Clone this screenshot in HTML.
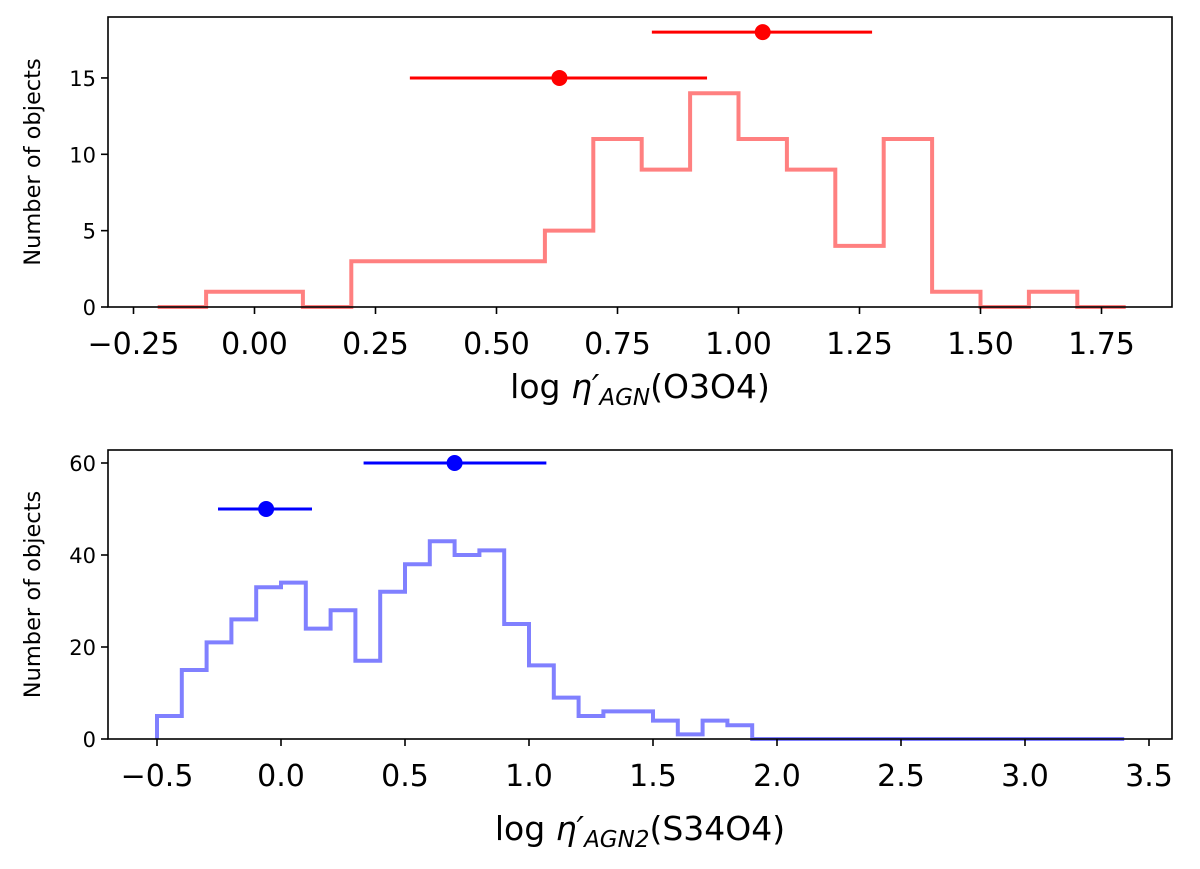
<!DOCTYPE html>
<html><head><meta charset="utf-8"><style>
html,body{margin:0;padding:0;background:#fff;}
svg{display:block;font-family:"DejaVu Sans","Liberation Sans",sans-serif;}
</style></head><body>
<svg id="chart" width="1200" height="869" viewBox="0 0 1200 869"></svg>
<script>
// Top panel data
const topBinStart = -0.2;
const topBinWidth = 0.1;
const topCounts = [0,1,1,0,3,3,3,3,5,11,9,14,11,9,4,11,1,0,1,0];
const topXTicks = [-0.25,0,0.25,0.5,0.75,1.0,1.25,1.5,1.75];
const topXTickLabels = ["\u22120.25","0.00","0.25","0.50","0.75","1.00","1.25","1.50","1.75"];
const topYTicks = [0,5,10,15];
const topPointsX = [1.05,0.63];
const topPointsY = [18,15];
const topErrLo = [0.821,0.321];
const topErrHi = [1.276,0.935];
// Bottom panel data
const botBinStart = -0.5;
const botBinWidth = 0.1;
const botCounts = [5,15,21,26,33,34,24,28,17,32,38,43,40,41,25,16,9,5,6,6,4,1,4,3,0,0,0,0,0,0,0,0,0,0,0,0,0,0,0];
const botXTicks = [-0.5,0,0.5,1.0,1.5,2.0,2.5,3.0,3.5];
const botXTickLabels = ["\u22120.5","0.0","0.5","1.0","1.5","2.0","2.5","3.0","3.5"];
const botYTicks = [0,20,40,60];
const botPointsX = [0.70,-0.06];
const botPointsY = [60,50];
const botErrLo = [0.333,-0.254];
const botErrHi = [1.07,0.125];

const svg = document.getElementById('chart');
const NS = 'http://www.w3.org/2000/svg';
function mk(tag, attrs, parent){
  const e = document.createElementNS(NS, tag);
  for (const k in attrs) e.setAttribute(k, attrs[k]);
  (parent||svg).appendChild(e);
  return e;
}

function panel(cfg){
  const g = mk('g', {});
  
  
  const X = v => cfg.x0 + cfg.xs * v;
  const Y = v => cfg.yb - cfg.ys * v;
  let d = '';
  const c = cfg.counts;
  for (let i = 0; i < c.length; i++) {
    const xa = X(cfg.binStart + i*cfg.binWidth), xb = X(cfg.binStart + (i+1)*cfg.binWidth);
    if (i === 0) d += 'M' + xa + ',' + cfg.yb + ' L' + xa + ',' + Y(c[i]);
    else d += ' L' + xa + ',' + Y(c[i]);
    d += ' L' + xb + ',' + Y(c[i]);
  }
  const last = cfg.binStart + c.length*cfg.binWidth;
  d += ' L' + X(last) + ',' + cfg.yb;
  const h = mk('path', {d: d, fill: 'none', stroke: cfg.histColor, 'stroke-width': 4, 'stroke-linejoin': 'miter'}, g);
  
  
  for (let i = 0; i < cfg.px.length; i++) {
    const eb = mk('g', {}, g);
    
    
    mk('line', {x1: X(cfg.lo[i]), x2: X(cfg.hi[i]), y1: Y(cfg.py[i]), y2: Y(cfg.py[i]), stroke: cfg.ptColor, 'stroke-width': 3}, eb);
    mk('circle', {cx: X(cfg.px[i]), cy: Y(cfg.py[i]), r: 8, fill: cfg.ptColor}, eb);
  }
  const fr = mk('rect', {x: cfg.left, y: cfg.top, width: cfg.right-cfg.left, height: cfg.yb-cfg.top, fill: 'none', stroke: '#000', 'stroke-width': 1.6}, g);
  
  
  cfg.xt.forEach((v, i) => {
    mk('line', {x1: X(v), x2: X(v), y1: cfg.yb, y2: cfg.yb+7, stroke: '#000', 'stroke-width': 1.6}, g);
    const t = mk('text', {x: X(v), y: cfg.yb+47, 'text-anchor': 'middle', 'font-size': 30, fill: '#000'}, g);
    t.textContent = cfg.xtl[i];
    
    
  });
  cfg.yt.forEach(v => {
    mk('line', {x1: cfg.left-7, x2: cfg.left, y1: Y(v), y2: Y(v), stroke: '#000', 'stroke-width': 1.6}, g);
    const t = mk('text', {x: cfg.left-12, y: Y(v)+8, 'text-anchor': 'end', 'font-size': 21, fill: '#000'}, g);
    t.textContent = String(v);
    
    
  });
  const yl = mk('text', {x: 0, y: 0, 'text-anchor': 'middle', 'font-size': 22.5, fill: '#000', transform: 'translate(' + cfg.ylx + ',' + ((cfg.top+cfg.yb)/2) + ') rotate(-90)'}, g);
  yl.textContent = 'Number of objects';
  
  
  const xl = mk('text', {x: (cfg.left+cfg.right)/2, y: cfg.xly, 'text-anchor': 'middle', 'font-size': 33, fill: '#000'}, g);
  xl.innerHTML = 'log <tspan font-style="italic">η′</tspan><tspan font-style="italic" font-size="23" dy="7">' + cfg.sub + '</tspan><tspan dy="-7">(' + cfg.tag + ')</tspan>';
  
  
}

panel({name:'top-panel', left:108, right:1172, top:17, yb:307, x0:254.5, xs:484, ys:15.27,
  counts: topCounts, binStart: topBinStart, binWidth: topBinWidth, histColor:'#ff8080', ptColor:'#ff0000',
  px: topPointsX, py: topPointsY, lo: topErrLo, hi: topErrHi,
  xt: topXTicks, xtl: topXTickLabels, yt: topYTicks, ylx: 40, xly: 398, sub:'AGN', tag:'O3O4'});
panel({name:'bottom-panel', left:108, right:1172, top:450, yb:739, x0:281, xs:248, ys:4.6,
  counts: botCounts, binStart: botBinStart, binWidth: botBinWidth, histColor:'#8080ff', ptColor:'#0000ff',
  px: botPointsX, py: botPointsY, lo: botErrLo, hi: botErrHi,
  xt: botXTicks, xtl: botXTickLabels, yt: botYTicks, ylx: 40, xly: 840, sub:'AGN2', tag:'S34O4'});
</script>
</body></html>
